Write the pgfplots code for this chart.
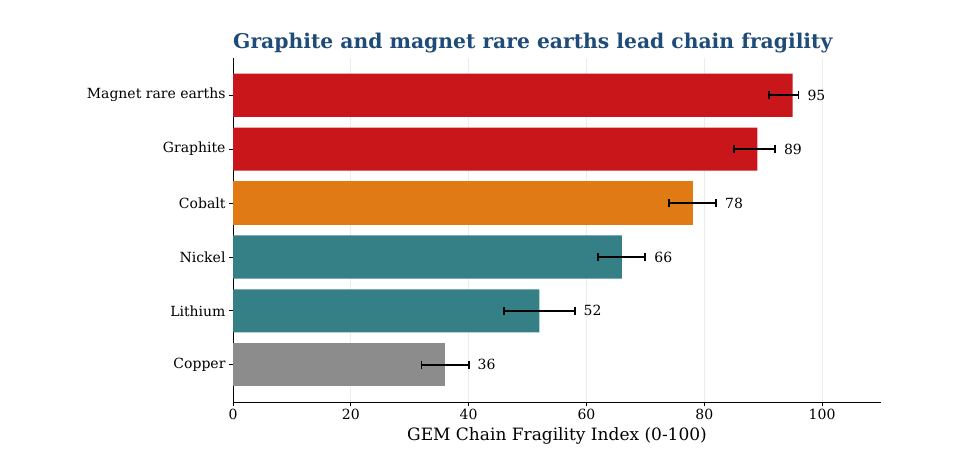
\documentclass[border=0pt]{standalone}
\usepackage{pgfplots}
\pgfplotsset{compat=1.18}
\usepackage{fontspec}
\setmainfont{DejaVu Serif}
\definecolor{cred}{HTML}{C8161A}
\definecolor{corange}{HTML}{DF7A14}
\definecolor{cteal}{HTML}{358087}
\definecolor{cgray}{HTML}{8C8C8C}
\definecolor{ctitle}{HTML}{1F4B78}
\pgfplotsset{myerr/.style={error bars/.cd, x dir=both, x explicit,
  error bar style={black, line width=1.8bp, solid},
  error mark options={rotate=90, mark size=4.2bp, line width=1.8bp, black, solid}}}
\begin{document}
\begin{tikzpicture}[x=1bp,y=1bp]
\path[use as bounding box] (0,0) rectangle (979,464);
\begin{axis}[
  at={(233bp,62bp)}, anchor=south west,
  scale only axis, width=648bp, height=344bp,
  xbar, bar width=0.8, bar shift=0pt,
  xmin=0, xmax=110, ymin=-0.69, ymax=5.69,
  xtick={0,20,40,60,80,100},
  ytick={0,1,2,3,4,5},
  yticklabels={Copper,Lithium,Nickel,Cobalt,Graphite,Magnet rare earths},
  axis x line*=bottom, axis y line*=left,
  axis line style={line width=0.9pt, -},
  tick align=outside, tick style={black, line width=0.8pt},
  major tick length=4bp,
  xmajorgrids, grid style={gray!15, line width=0.8pt},
  /pgf/number format/assume math mode=true,
  ticklabel style={font=\fontsize{14bp}{16bp}\selectfont},
  xlabel={GEM Chain Fragility Index (0-100)},
  xlabel style={font=\fontsize{17bp}{20bp}\selectfont, yshift=-1bp},
  title={\textbf{Graphite and magnet rare earths lead chain fragility}},
  title style={font=\fontsize{20.3bp}{24bp}\selectfont, color=ctitle, at={(0,1)}, anchor=south west, inner xsep=0pt, yshift=-5bp},
  nodes near coords style={font=\fontsize{14bp}{16bp}\selectfont, black, inner xsep=0pt},
]
\addplot[fill=cred, draw=none, myerr]
  coordinates {(95,5) += (1,0) -= (4,0) (89,4) += (3,0) -= (4,0)};
\addplot[fill=corange, draw=none, myerr]
  coordinates {(78,3) += (4,0) -= (4,0)};
\addplot[fill=cteal, draw=none, myerr]
  coordinates {(66,2) += (4,0) -= (4,0) (52,1) += (6,0) -= (6,0)};
\addplot[fill=cgray, draw=none, myerr]
  coordinates {(36,0) += (4,0) -= (4,0)};
\addplot[draw=none, fill=none, forget plot, mark=none,
  nodes near coords, point meta=explicit symbolic,
  nodes near coords align={anchor=west}]
  coordinates {(97.5,5) [95] (93.5,4) [89] (83.5,3) [78] (71.5,2) [66] (59.5,1) [52] (41.5,0) [36]};
\end{axis}
\end{tikzpicture}
\end{document}
